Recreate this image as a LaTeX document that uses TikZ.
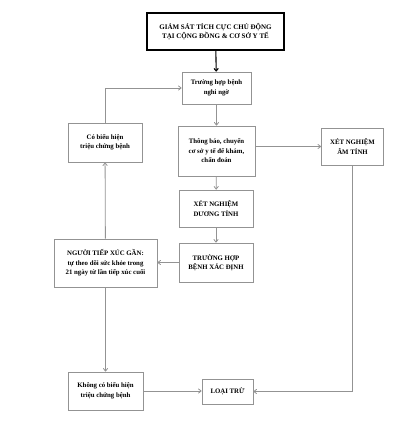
\documentclass[tikz,border=0pt]{standalone}
\usepackage{fontspec}
\setmainfont{Liberation Serif}
\usetikzlibrary{arrows.meta,calc}

\begin{document}
\begin{tikzpicture}[x=1pt,y=-1pt]
			\tikzset{hop/.style={draw=gray!85,line width=0.9pt,fill=white,align=center,font=\bfseries\fontsize{6.8}{9.5}\selectfont,inner sep=1pt},
				noi/.style={draw=gray!85,line width=0.8pt,-{To[length=3.5pt,width=5pt]}}}
			\useasboundingbox (0,0) rectangle (402,431);
			\node[hop,draw=black,line width=1.2pt,minimum width=137,minimum height=37,font=\bfseries\fontsize{7}{9.5}\selectfont] (giamsat) at (215.5,31.5) {GIÁM SÁT TÍCH CỰC CHỦ ĐỘNG\\TẠI CỘNG ĐỒNG \& CƠ SỞ Y TẾ};
			\node[hop,minimum width=69,minimum height=32] (nghingo) at (216.5,88) {Trường hợp bệnh\\nghi ngờ};
			\node[hop,minimum width=77,minimum height=50] (thongbao) at (216.5,151) {Thông báo, chuyển\\cơ sở y tế để khám,\\chẩn đoán};
			\node[hop,minimum width=74,minimum height=37] (duong) at (216,208.5) {XÉT NGHIỆM\\DƯƠNG TÍNH};
			\node[hop,minimum width=74,minimum height=39] (xacdinh) at (216,262.5) {TRƯỜNG HỢP\\BỆNH XÁC ĐỊNH};
			\node[hop,minimum width=62,minimum height=37] (amtinh) at (352.5,146.5) {XÉT NGHIỆM\\ÂM TÍNH};
			\node[hop,minimum width=74,minimum height=39] (cobieu) at (105,142.5) {Có biểu hiện\\triệu chứng bệnh};
			\node[hop,minimum width=103,minimum height=48] (tiepxuc) at (105.5,263) {NGƯỜI TIẾP XÚC GẦN:\\tự theo dõi sức khỏe trong\\21 ngày từ lần tiếp xúc cuối};
			\node[hop,minimum width=75,minimum height=38] (khongco) at (105.5,391) {Không có biểu hiện\\triệu chứng bệnh};
			\node[hop,minimum width=51,minimum height=25] (loaitru) at (227.5,391.5) {LOẠI TRỪ};
			% cac mui ten
			\draw[noi,draw=black,line width=1.1pt] (giamsat) -- (nghingo);
			\draw[noi] (nghingo) -- (thongbao);
			\draw[noi] (thongbao) -- (duong);
			\draw[noi] (duong) -- (xacdinh);
			\draw[noi] (thongbao.east |- amtinh.west) -- (amtinh.west);
			\draw[noi] (amtinh.south) |- (loaitru.east);
			\draw[noi] (khongco.east) -- (khongco.east -| loaitru.west);
			\draw[noi] (xacdinh.west) -- (xacdinh.west -| tiepxuc.east);
			\draw[noi] (tiepxuc) -- (cobieu);
			\draw[noi] (tiepxuc) -- (khongco);
			\draw[noi] (cobieu.north) |- (nghingo.west);
		\end{tikzpicture}
\end{document}
